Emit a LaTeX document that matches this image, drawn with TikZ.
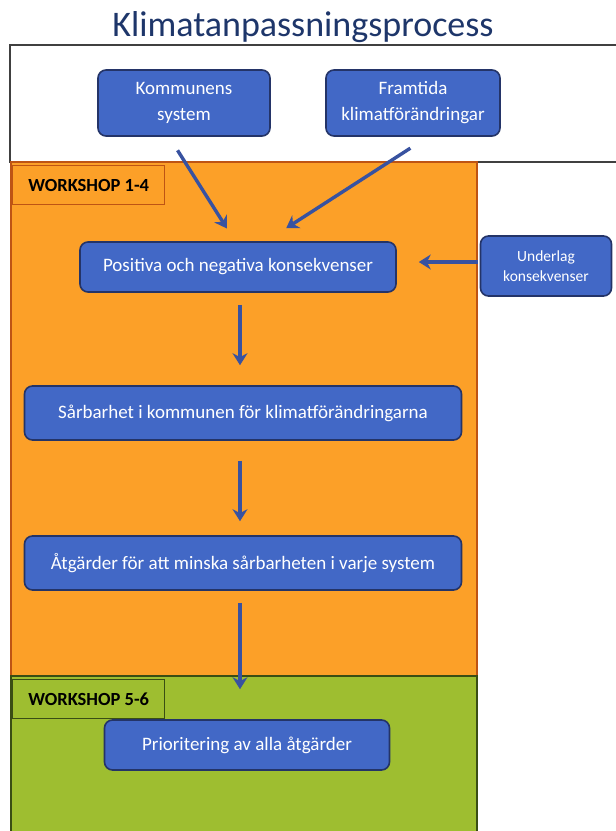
\documentclass[tikz,border=0pt]{standalone}
\usepackage{fontspec}
\setmainfont{Carlito}
\usepackage{tikz}
\usetikzlibrary{arrows.meta,calc,positioning}
\usepackage{xcolor}
\definecolor{boxblue}{RGB}{66,104,198}
\definecolor{boxline}{RGB}{36,52,104}
\definecolor{orangefill}{RGB}{252,160,40}
\definecolor{orangeline}{RGB}{190,84,20}
\definecolor{greenfill}{RGB}{158,190,48}
\definecolor{greenline}{RGB}{58,78,20}
\definecolor{titleblue}{RGB}{30,54,106}
\definecolor{arrowblue}{RGB}{56,82,160}

\begin{document}
\begin{tikzpicture}[x=1pt, y=-1pt,
  box/.style={draw=boxline, line width=1.6pt, fill=boxblue, rounded corners=8pt, text=white,
    align=center, inner sep=0pt, font=\fontsize{19}{26}\selectfont},
  tag/.style={draw, line width=1.4pt, minimum width=152pt, minimum height=39pt, inner sep=0pt,
    font=\fontsize{18.5}{20}\selectfont\bfseries},
  flow/.style={draw=arrowblue, line width=3.4pt, -{Stealth[length=12pt,width=15pt]}}]

\useasboundingbox (0,0) rectangle (616,831);

% Klimatanpassning: rubrik, ytor och steg
\node[font=\fontsize{36}{40}\selectfont, text=titleblue] (title) at (303,27) {Klimatanpassningsprocess};

\draw[line width=1.4pt, draw=black!75, fill=white] (10,45) rectangle (640,162);
\filldraw[fill=orangefill, draw=orangeline, line width=1.4pt] (11,162) rectangle (477,676);
\filldraw[fill=greenfill, draw=greenline, line width=1.4pt] (11,676) rectangle (477,850);

\node[tag, draw=orangeline, anchor=north west] (ws1) at (12,165) {WORKSHOP 1-4};
\node[tag, draw=greenline, anchor=north west] (ws5) at (12,679) {WORKSHOP 5-6};

\node[box, minimum width=172pt, minimum height=66pt] (kom) at (184,103) {Kommunens\\system};
\node[box, minimum width=174pt, minimum height=66pt] (fra) at (413,103) {Framtida\\klimatförändringar};
\node[box, minimum width=316pt, minimum height=50pt] (pos) at (238,267) {Positiva och negativa konsekvenser};
\node[box, minimum width=131pt, minimum height=60pt, font=\fontsize{15.5}{20}\selectfont] (und) at (546,266) {Underlag\\konsekvenser};
\node[box, minimum width=437pt, minimum height=54pt] (sar) at (243,413) {Sårbarhet i kommunen för klimatförändringarna};
\node[box, minimum width=437pt, minimum height=54pt] (atg) at (243,563) {Åtgärder för att minska sårbarheten i varje system};
\node[box, minimum width=285pt, minimum height=50pt] (pri) at (247,745) {Prioritering av alla åtgärder};

\draw[flow, shorten <=16pt, shorten >=15pt] ([xshift=-15pt]kom.south) -- ([xshift=-3pt]pos.north);
\draw[flow, shorten <=21pt, shorten >=24pt] ([xshift=15pt]fra.south) -- ([xshift=28pt]pos.north);
\draw[flow, shorten <=2pt, shorten >=22pt] ([yshift=4pt]und.west) -- ([yshift=4pt]und.west -| pos.east);
\draw[flow, shorten <=12pt, shorten >=20pt] ([xshift=2pt]pos.south) -- ([xshift=2pt]pos.south |- sar.north);
\draw[flow, shorten <=20pt, shorten >=14pt] ([xshift=-3pt]sar.south) -- ([xshift=-3pt]atg.north);
\draw[flow, shorten <=12pt, shorten >=30pt] ([xshift=-3pt]atg.south) -- ([xshift=-3pt]atg.south |- pri.north);

\end{tikzpicture}
\end{document}
